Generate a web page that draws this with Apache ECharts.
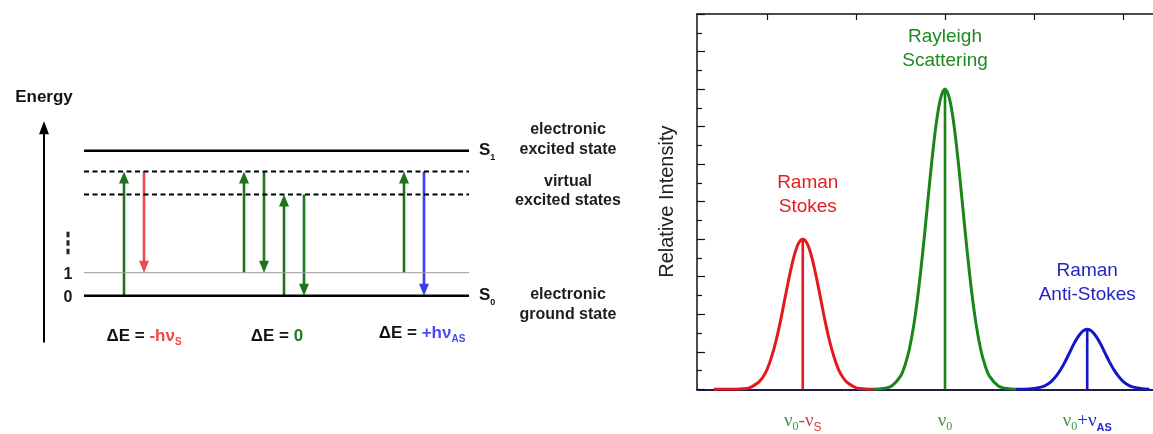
<!DOCTYPE html>
<html>
<head>
<meta charset="utf-8">
<script src="https://cdn.jsdelivr.net/npm/echarts@6/dist/echarts.min.js"></script>
<style>
  html, body { margin: 0; padding: 0; background: #fff; }
  #chart { width: 1153px; height: 434px; }
</style>
</head>
<body>
<div id="chart"></div>
<script>
// ---------- Spectrum (right panel) ----------
// Intensity profiles, [frequency shift, relative intensity]
const stokesCurve = [
  [-2.6, 0], [-2.4, 0], [-2.3, 0.01], [-2.2, 0.04], [-2.1, 0.18], [-2.05, 0.32],
  [-2.0, 0.54], [-1.95, 0.87], [-1.9, 1.30], [-1.85, 1.83], [-1.8, 2.43], [-1.75, 3.02],
  [-1.7, 3.53], [-1.65, 3.88], [-1.6, 4.00], [-1.55, 3.88], [-1.5, 3.53], [-1.45, 3.02],
  [-1.4, 2.43], [-1.35, 1.83], [-1.3, 1.30], [-1.25, 0.87], [-1.2, 0.54], [-1.15, 0.32],
  [-1.1, 0.18], [-1.0, 0.04], [-0.9, 0.01], [-0.8, 0]
];
const rayleighCurve = [
  [-0.8, 0], [-0.7, 0.02], [-0.6, 0.09], [-0.5, 0.35], [-0.45, 0.64], [-0.4, 1.08],
  [-0.35, 1.73], [-0.3, 2.60], [-0.25, 3.66], [-0.2, 4.85], [-0.15, 6.04], [-0.1, 7.06],
  [-0.05, 7.75], [0, 8.00], [0.05, 7.75], [0.1, 7.06], [0.15, 6.04], [0.2, 4.85],
  [0.25, 3.66], [0.3, 2.60], [0.35, 1.73], [0.4, 1.08], [0.45, 0.64], [0.5, 0.35],
  [0.6, 0.09], [0.7, 0.02], [0.8, 0]
];
const antiStokesCurve = [
  [0.8, 0], [0.9, 0], [1.0, 0.02], [1.1, 0.07], [1.15, 0.13], [1.2, 0.22],
  [1.25, 0.35], [1.3, 0.52], [1.35, 0.73], [1.4, 0.97], [1.45, 1.21], [1.5, 1.41],
  [1.55, 1.55], [1.6, 1.60], [1.65, 1.55], [1.7, 1.41], [1.75, 1.21], [1.8, 0.97],
  [1.85, 0.73], [1.9, 0.52], [1.95, 0.35], [2.0, 0.22], [2.05, 0.13], [2.1, 0.07],
  [2.2, 0.02], [2.3, 0]
];
const peakCenters = [-1.6, 0, 1.6];
const peakHeights = [4, 8, 1.6];
const peakNames = ['Raman\nStokes', 'Rayleigh\nScattering', 'Raman\nAnti-Stokes'];
const freqTicks = [-1.6, 0, 1.6];
const freqLabels = [
  '{g|ν}{gs|0}{r|-ν}{rs|S}',
  '{g|ν}{gs|0}',
  '{g|ν}{gs|0}{b|+ν}{bs|AS}'
];
const topTicks = [-2, -1, 0, 1, 2];

// ---------- Energy level diagram (left panel) ----------
// energies: S0, vibrational level 1, two virtual states, S1
const levelEnergies = [0, 1, 4.4, 5.4, 6.3];
const levelSpan = [2, 21.25];
const levelTickLabels = ['0', '1'];
// transitions: [position, from energy, to energy]
const greenArrows = [[4, 0, 5.4], [10, 1, 5.4], [11, 5.4, 1], [12, 0, 4.4], [13, 4.4, 0], [18, 1, 5.4]];
const redArrows = [[5, 5.4, 1]];
const blueArrows = [[19, 5.4, 0]];
const stateNotes = ['electronic\nexcited state', 'virtual\nexcited states', 'electronic\nground state'];
const deltaLabels = [
  '{k|ΔE = }{r|-hν}{rs|S}',
  '{k|ΔE = }{g|0}',
  '{k|ΔE = }{b|+hν}{bs|AS}'
];

const SANS = 'Liberation Sans, Arial, Helvetica, sans-serif';
const SERIF = 'Liberation Serif, Times New Roman, serif';
const C = {
  red: '#e3191c', green: '#1a861a', blue: '#1414c8',
  arrowGreen: '#1b761b', arrowRed: '#f04a4a', arrowBlue: '#3b3bf2'
};

function lineSeries(data, color, width, extra) {
  return Object.assign({
    type: 'line', data: data, symbol: 'none', smooth: false,
    lineStyle: { color: color, width: width }, silent: true
  }, extra || {});
}

function textSeries(points, labelOpt, xi, yi) {
  return {
    type: 'scatter', xAxisIndex: xi, yAxisIndex: yi, symbolSize: 0, silent: true,
    itemStyle: { opacity: 1 },
    data: points.map(p => ({ value: [p[0], p[1]] })),
    label: Object.assign({ show: true, position: 'inside', fontFamily: SANS }, labelOpt)
  };
}

function arrowSeries(data, color) {
  return {
    type: 'custom', xAxisIndex: 2, yAxisIndex: 1, silent: true, clip: false,
    encode: { x: 0, y: [1, 2] },
    data: data,
    renderItem: function (params, api) {
      const x = api.value(0);
      const p0 = api.coord([x, api.value(1)]);
      const p1 = api.coord([x, api.value(2)]);
      const dir = p1[1] < p0[1] ? -1 : 1;
      const headLen = 12, headHalf = 5;
      const baseY = p1[1] - dir * headLen;
      return {
        type: 'group',
        children: [
          { type: 'line', shape: { x1: p0[0], y1: p0[1], x2: p1[0], y2: baseY + dir * 1 },
            style: { stroke: color, lineWidth: 2.6 } },
          { type: 'polygon', shape: { points: [[p1[0], p1[1]], [p1[0] - headHalf, baseY], [p1[0] + headHalf, baseY]] },
            style: { fill: color } }
        ]
      };
    }
  };
}

const subBase = { verticalAlign: 'bottom', fontFamily: SANS };

const option = {
  animation: false,
  backgroundColor: '#ffffff',
  grid: [
    { left: 697, top: 14, right: 0, height: 375.3 },
    { left: 44, top: 127.8, width: 560, height: 213.9 }
  ],
  xAxis: [
    {
      gridIndex: 0, type: 'value', min: -2.79, max: 2.34, position: 'bottom',
      axisLine: { onZero: false, lineStyle: { color: '#1c1c50', width: 2 } },
      axisTick: { show: false }, splitLine: { show: false },
      axisLabel: {
        customValues: freqTicks, margin: 20,
        formatter: v => freqLabels[freqTicks.indexOf(v)] || '',
        rich: {
          g: { fontFamily: SERIF, fontSize: 19, color: '#3c963c', lineHeight: 24 },
          gs: { fontFamily: SERIF, fontSize: 12, color: '#3c963c', lineHeight: 12, verticalAlign: 'bottom' },
          r: { fontFamily: SERIF, fontSize: 19, color: '#d23c3c', lineHeight: 24 },
          rs: Object.assign({ fontSize: 12, color: '#d23c3c', lineHeight: 12 }, subBase),
          b: { fontFamily: SERIF, fontSize: 19, color: '#2828cc', lineHeight: 24 },
          bs: Object.assign({ fontSize: 11, color: '#2828cc', lineHeight: 11, fontWeight: 'bold' }, subBase)
        }
      }
    },
    {
      gridIndex: 0, type: 'value', min: -2.79, max: 2.34, position: 'top',
      axisLine: { onZero: false, lineStyle: { color: '#111', width: 1.5 } },
      axisTick: { show: true, inside: true, length: 6, customValues: topTicks, lineStyle: { color: '#111', width: 1.2 } },
      axisLabel: { show: false }, splitLine: { show: false }
    },
    { gridIndex: 1, type: 'value', min: 0, max: 28, show: false }
  ],
  yAxis: [
    {
      gridIndex: 0, type: 'value', min: 0, max: 10, interval: 1,
      axisLine: { show: true, onZero: false, lineStyle: { color: '#111', width: 1.5 } },
      axisTick: { show: true, inside: true, length: 8, lineStyle: { color: '#111', width: 1.2 } },
      minorTick: { show: true, splitNumber: 2, length: 5, lineStyle: { color: '#111', width: 1.2 } },
      axisLabel: { show: false }, splitLine: { show: false },
      name: 'Relative Intensity', nameLocation: 'middle', nameGap: 20,
      nameTextStyle: { fontFamily: SANS, fontSize: 20, color: '#222' }
    },
    {
      gridIndex: 1, type: 'value', min: -2, max: 7.3,
      axisLine: { show: true, onZero: false, symbol: ['none', 'triangle'], symbolSize: [10, 13],
        lineStyle: { color: '#000', width: 2 } },
      axisTick: { show: false }, axisLabel: { show: false }, splitLine: { show: false },
      name: 'Energy', nameLocation: 'end', nameGap: 22,
      nameTextStyle: { fontFamily: SANS, fontSize: 17, fontWeight: 'bold', color: '#111' }
    }
  ],
  series: [
    // spectrum curves
    lineSeries(stokesCurve, C.red, 3, { smooth: 0.3, xAxisIndex: 0, yAxisIndex: 0 }),
    lineSeries(rayleighCurve, C.green, 3, { smooth: 0.3, xAxisIndex: 0, yAxisIndex: 0 }),
    lineSeries(antiStokesCurve, C.blue, 3, { smooth: 0.3, xAxisIndex: 0, yAxisIndex: 0 }),
    // peak center lines
    lineSeries([[peakCenters[0], 0], [peakCenters[0], peakHeights[0]]], C.red, 2.6, { xAxisIndex: 0, yAxisIndex: 0 }),
    lineSeries([[peakCenters[1], 0], [peakCenters[1], peakHeights[1]]], C.green, 2.6, { xAxisIndex: 0, yAxisIndex: 0 }),
    lineSeries([[peakCenters[2], 0], [peakCenters[2], peakHeights[2]]], C.blue, 2.6, { xAxisIndex: 0, yAxisIndex: 0 }),
    // peak captions
    {
      type: 'scatter', xAxisIndex: 0, yAxisIndex: 0, symbolSize: 0, silent: true,
      itemStyle: { opacity: 1 },
      data: [
        { value: [peakCenters[0], peakHeights[0]], label: { color: '#e02020', distance: 20, offset: [5, 0] } },
        { value: [peakCenters[1], peakHeights[1]], label: { color: '#1f8a1f', distance: 16 } },
        { value: [peakCenters[2], peakHeights[2]], label: { color: '#2424c4', distance: 22 } }
      ],
      label: {
        show: true, position: 'top', fontFamily: SANS, fontSize: 19, lineHeight: 24, align: 'center',
        formatter: p => peakNames[p.dataIndex]
      }
    },

    // energy levels
    lineSeries([[levelSpan[0], levelEnergies[0]], [levelSpan[1], levelEnergies[0]]], '#000', 2.5, { xAxisIndex: 2, yAxisIndex: 1 }),
    lineSeries([[levelSpan[0], levelEnergies[1]], [levelSpan[1], levelEnergies[1]]], '#9a9a9a', 1, { xAxisIndex: 2, yAxisIndex: 1 }),
    lineSeries([[levelSpan[0], levelEnergies[2]], [levelSpan[1], levelEnergies[2]]], '#000', 2,
      { xAxisIndex: 2, yAxisIndex: 1, lineStyle: { color: '#000', width: 2, type: [5, 3.5] } }),
    lineSeries([[levelSpan[0], levelEnergies[3]], [levelSpan[1], levelEnergies[3]]], '#000', 2,
      { xAxisIndex: 2, yAxisIndex: 1, lineStyle: { color: '#000', width: 2, type: [5, 3.5] } }),
    lineSeries([[levelSpan[0], levelEnergies[4]], [levelSpan[1], levelEnergies[4]]], '#000', 2.5, { xAxisIndex: 2, yAxisIndex: 1 }),
    // vertical ellipsis above level 1
    lineSeries([[1.2, 2.78], [1.2, 1.77]], '#222', 3,
      { xAxisIndex: 2, yAxisIndex: 1, lineStyle: { color: '#222', width: 3, type: [5.5, 3] } }),

    // transitions
    arrowSeries(greenArrows, C.arrowGreen),
    arrowSeries(redArrows, C.arrowRed),
    arrowSeries(blueArrows, C.arrowBlue),

    // level numbers
    textSeries([[1.2, levelEnergies[1]], [1.2, levelEnergies[0]]], {
      fontSize: 16, fontWeight: 'bold', color: '#1a1a1a', offset: [0, 2],
      formatter: p => levelTickLabels[1 - p.dataIndex]
    }, 2, 1),
    // state symbols S1 / S0
    textSeries([[levelSpan[1], levelEnergies[4]], [levelSpan[1], levelEnergies[0]]], {
      position: 'right', distance: 10,
      formatter: p => p.dataIndex === 0 ? '{s|S}{ss|1}' : '{s|S}{ss|0}',
      rich: {
        s: { fontFamily: SANS, fontSize: 17, fontWeight: 'bold', color: '#111', lineHeight: 22 },
        ss: { fontFamily: SANS, fontSize: 9, fontWeight: 'bold', color: '#111', lineHeight: 9, verticalAlign: 'bottom' }
      }
    }, 2, 1),
    // state descriptions
    textSeries([[26.2, 6.78], [26.2, 4.54], [26.2, -0.38]], {
      fontSize: 16, fontWeight: 'bold', color: '#1e1e1e', lineHeight: 19.5, align: 'center',
      formatter: p => stateNotes[p.dataIndex]
    }, 2, 1),
    // energy differences
    textSeries([[5.0, -1.75], [11.65, -1.75], [18.9, -1.65]], {
      formatter: p => deltaLabels[p.dataIndex],
      rich: {
        k: { fontFamily: SANS, fontSize: 17, fontWeight: 'bold', color: '#111', lineHeight: 22 },
        r: { fontFamily: SANS, fontSize: 17, fontWeight: 'bold', color: '#ee4848', lineHeight: 22 },
        rs: { fontFamily: SANS, fontSize: 10, fontWeight: 'bold', color: '#ee4848', lineHeight: 10, verticalAlign: 'bottom' },
        g: { fontFamily: SANS, fontSize: 17, fontWeight: 'bold', color: '#1b7e1b', lineHeight: 22 },
        b: { fontFamily: SANS, fontSize: 17, fontWeight: 'bold', color: '#4a4af5', lineHeight: 22 },
        bs: { fontFamily: SANS, fontSize: 10, fontWeight: 'bold', color: '#4a4af5', lineHeight: 10, verticalAlign: 'bottom' }
      }
    }, 2, 1)
  ]
};

const chart = echarts.init(document.getElementById('chart'), null, { renderer: 'canvas' });
chart.setOption(option);
</script>
</body>
</html>
